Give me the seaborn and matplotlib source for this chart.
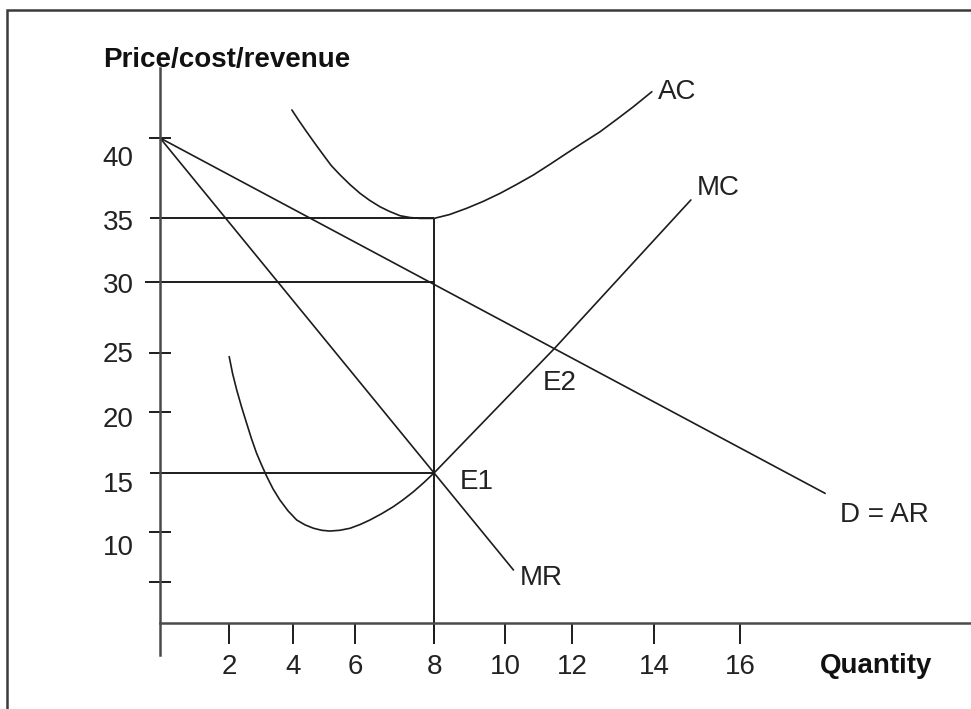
import seaborn as sns
import matplotlib.pyplot as plt
from matplotlib.patches import Rectangle

# hand drawn cost/revenue diagram
d_q = [0, 19.42]
d_p = [41.32, 13.4]

mr_q = [0, 10.32]
mr_p = [41.32, 7.38]

mc_q = [2.02, 2.12, 2.24, 2.38, 2.53, 2.67, 2.82, 2.97, 3.12, 3.3, 3.5, 3.74, 3.99, 4.23, 4.48,
        4.72, 4.96, 5.25, 5.55, 5.84, 6.13, 6.47, 6.81, 7.1, 7.4, 7.7, 8.0, 11.53, 15.5]
mc_p = [24.14, 22.8, 21.52, 20.2, 18.9, 17.7, 16.55, 15.6, 14.71, 13.75, 12.88, 12.02, 11.31, 10.93, 10.66,
        10.5, 10.44, 10.5, 10.66, 10.95, 11.31, 11.8, 12.35, 12.9, 13.53, 14.24, 15.0, 24.82, 36.45]

ac_q = [3.85, 4.05, 4.28, 4.52, 4.77, 5.0, 5.26, 5.55, 5.84, 6.12, 6.42, 6.7, 7.01, 7.3, 7.59, 8.0,
        8.45, 8.95, 9.43, 9.93, 10.4, 10.9, 11.37, 11.87, 12.35, 12.85, 13.32, 13.82, 14.36]
ac_p = [43.52, 42.7, 41.81, 40.9, 39.98, 39.15, 38.41, 37.65, 36.97, 36.42, 35.92, 35.55, 35.21, 35.07, 35.0, 35.0,
        35.3, 35.79, 36.33, 36.97, 37.65, 38.41, 39.22, 40.11, 40.95, 41.81, 42.75, 43.77, 44.95]

# equilibrium output and the prices read across to the axis
q_star = 8
guide_p = [35, 30, 15]

price_labels = ["40", "35", "30", "25", "20", "15", "10"]
qty_labels = ["2", "4", "6", "8", "10", "12", "14", "16"]

# where the drawing actually puts its ticks (scale is not even)
price_label_pos = [39.88, 34.88, 29.93, 24.47, 19.42, 14.32, 9.34]
price_tick_pos = [41.32, 24.43, 19.79, 10.37, 6.44]
qty_tick_pos = [2.01, 3.88, 5.69, 8.0, 10.07, 12.03, 14.42, 16.93]

sns.set_theme(style="white")
plt.rcParams["font.family"] = ["Liberation Sans", "DejaVu Sans"]

ink = "#1c1c1c"
axis_col = "#4a4a4a"

fig = plt.figure(figsize=(9.71, 7.09), dpi=100)
ax = fig.add_axes([0, 0, 1, 1])
ax.set_xlim(-4.672, 23.679)
ax.set_ylim(-3.539, 52.157)
ax.patch.set_alpha(0)

# curves
for q, p in [(d_q, d_p), (mr_q, mr_p), (mc_q, mc_p), (ac_q, ac_p)]:
    sns.lineplot(x=q, y=p, ax=ax, color=ink, linewidth=1.2, sort=False, estimator=None)

# guide lines
ax.vlines(q_star, 1.65, 35, color=ink, linewidth=1.4)
ax.hlines(guide_p, [-0.29, -0.44, -0.29], q_star, color=ink, linewidth=1.4)

# axes
for s in ["top", "right"]:
    ax.spines[s].set_visible(False)
ax.spines["left"].set_position(("data", 0))
ax.spines["left"].set_bounds(0.7, 46.8)
ax.spines["bottom"].set_position(("data", 3.22))
ax.spines["bottom"].set_bounds(0, 23.7)
for s in ["left", "bottom"]:
    ax.spines[s].set_color(axis_col)
    ax.spines[s].set_linewidth(1.8)

ax.set_yticks(price_label_pos, price_labels)
ax.set_yticks(price_tick_pos, minor=True)
ax.tick_params(axis="y", which="major", length=0, pad=19, labelsize=20, colors="#222222")
ax.tick_params(axis="y", which="minor", direction="inout", length=16, width=1.4, color=ink, left=True)

ax.set_xticks(qty_tick_pos, qty_labels)
ax.tick_params(axis="x", which="major", direction="out", length=15, width=1.4, color=ink,
               pad=7, labelsize=20, labelcolor="#222222", bottom=True)
ax.grid(False)

# axis titles and curve labels
ax.text(-1.66, 47.44, "Price/cost/revenue", fontsize=20, fontweight="bold", va="center", ha="left", color="#111111")
ax.text(19.27, -0.16, "Quantity", fontsize=20, fontweight="bold", va="center", ha="left", color="#111111")

labels = {"AC": (14.54, 44.93), "MC": (15.68, 37.39), "E2": (11.18, 22.07),
          "E1": (8.76, 14.29), "MR": (10.51, 6.75), "D = AR": (19.85, 11.7)}
for name, (x, y) in labels.items():
    ax.text(x, y, name, fontsize=20, va="center", ha="left", color="#222222")

# frame round the picture
fig.patches.append(Rectangle((7 / 971, -0.1), 2, 0.9859 + 0.1, transform=fig.transFigure,
                             fill=False, edgecolor="#3a3a3a", linewidth=1.8))

fig.savefig("out.png", dpi=100)
